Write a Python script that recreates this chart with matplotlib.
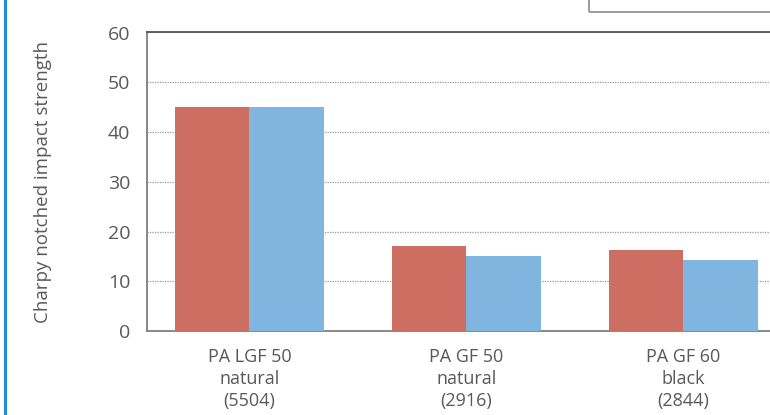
import numpy as np
import matplotlib.pyplot as plt
from matplotlib.lines import Line2D
from matplotlib.patches import Rectangle

# Charpy notched impact strength per compound, two test conditions
categories = ['PA LGF 50\nnatural\n(5504)', 'PA GF 50\nnatural\n(2916)', 'PA GF 60\nblack\n(2844)']
series_a = [45.0, 17.0, 16.3]
series_b = [45.0, 15.0, 14.3]
y_ticks = [0, 10, 20, 30, 40, 50, 60]

RED = '#CD6E62'
BLUE = '#7FB5DF'
TEXT = '#595959'

plt.rcParams['font.family'] = ['Open Sans', 'DejaVu Sans']

fig = plt.figure(figsize=(7.7, 4.15), dpi=100)
ax = fig.add_axes([147 / 770, 84 / 415, 651 / 770, 298.5 / 415])

x = np.arange(len(categories))
w = 0.345
ax.bar(x - w / 2, series_a, width=w, color=RED, zorder=3)
ax.bar(x + w / 2, series_b, width=w, color=BLUE, zorder=3)

ax.set_xlim(-0.472, 2.528)
ax.set_ylim(0, 60)
ax.set_yticks(y_ticks)
ax.set_xticks(x)
ax.set_xticklabels(categories, linespacing=1.28)
ax.tick_params(axis='y', length=0, labelsize=14, colors=TEXT, pad=12)
ax.tick_params(axis='x', length=0, labelsize=13, colors=TEXT, pad=12)

# dotted horizontal gridlines
ax.yaxis.grid(True, linestyle=(0, (1, 1)), color='#9a9a9a', linewidth=0.9, zorder=0)
ax.set_axisbelow(True)

for side in ['left', 'bottom', 'top', 'right']:
    ax.spines[side].set_color('#7f7f7f')
    ax.spines[side].set_linewidth(1.3)
ax.spines['top'].set_color('#555555')

ax.set_ylabel('Charpy notched impact strength', fontsize=13.5, color=TEXT, labelpad=40)

# frame of the legend box at the top right
fig.add_artist(Rectangle((589 / 770, 403 / 415), 0.3, 0.1, transform=fig.transFigure,
                         fill=False, edgecolor='#8a8a8a', linewidth=1.2, clip_on=False))

# blue page rule on the left edge
fig.add_artist(Line2D([4.8 / 770, 4.8 / 770], [0, 1], transform=fig.transFigure,
                      color='#2A8AD2', linewidth=2.3))

fig.savefig('out.png', dpi=100)
